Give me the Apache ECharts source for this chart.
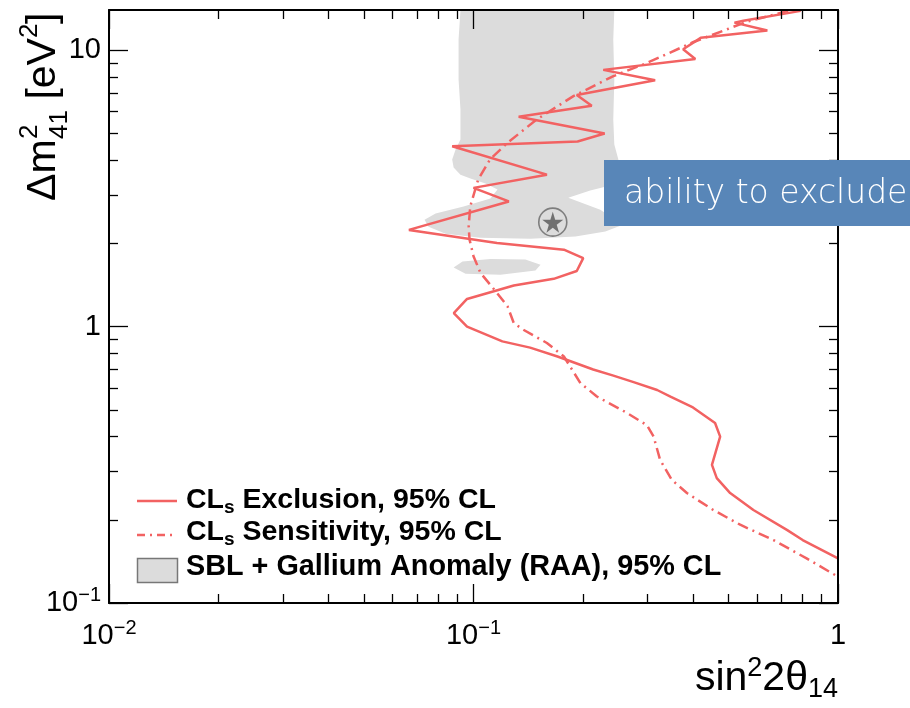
<!DOCTYPE html>
<html>
<head>
<meta charset="utf-8">
<script src="https://cdn.jsdelivr.net/npm/echarts@6/dist/echarts.min.js"></script>
<style>
  html, body { margin: 0; padding: 0; background: #ffffff; }
  #chart { width: 910px; height: 708px; }
</style>
</head>
<body>
<div id="chart"></div>
<script>
// ---- axis ranges and tick values ----
const xRange = [0.01, 1];
const yRange = [0.1, 14];
const xMajorTicks = [0.01, 0.1, 1];
const xMinorTicks = [0.02, 0.03, 0.04, 0.05, 0.06, 0.07, 0.08, 0.09,
                     0.2, 0.3, 0.4, 0.5, 0.6, 0.7, 0.8, 0.9];
const yMajorTicks = [0.1, 1, 10];
const yMinorTicks = [0.2, 0.3, 0.4, 0.5, 0.6, 0.7, 0.8, 0.9,
                     2, 3, 4, 5, 6, 7, 8, 9];

// ---- CLs exclusion contour, 95% CL (sin^2 2theta, dm^2) ----
const exclX = [0.79, 0.55, 0.52, 0.64, 0.42, 0.376, 0.406, 0.227, 0.315, 0.192,
               0.211, 0.133, 0.229, 0.193, 0.0874, 0.159, 0.100, 0.125, 0.0665, 0.116,
               0.177, 0.200, 0.192, 0.166, 0.129, 0.096, 0.0883, 0.096, 0.120, 0.143,
               0.170, 0.213, 0.242, 0.275, 0.319, 0.347, 0.40, 0.46, 0.475, 0.451,
               0.465, 0.506, 0.586, 0.724, 0.80, 1.0];
const exclY = [13.9, 12.8, 12.6, 11.8, 11.1, 10.1, 9.3, 8.5, 7.8, 6.9,
               6.3, 5.75, 5.0, 4.68, 4.5, 3.55, 3.18, 2.84, 2.24, 2.01,
               1.90, 1.77, 1.59, 1.49, 1.41, 1.26, 1.12, 1.0, 0.885, 0.84,
               0.78, 0.70, 0.665, 0.63, 0.59, 0.558, 0.51, 0.448, 0.40, 0.316,
               0.283, 0.25, 0.217, 0.184, 0.169, 0.145];

// ---- CLs sensitivity contour, 95% CL ----
const sensX = [0.73, 0.562, 0.40, 0.299, 0.242, 0.188, 0.149, 0.124, 0.111, 0.103,
               0.098, 0.097, 0.0975, 0.100, 0.1045, 0.116, 0.124, 0.129, 0.137, 0.159,
               0.177, 0.1965, 0.218, 0.264, 0.299, 0.312, 0.325, 0.350, 0.385, 0.455,
               0.539, 0.665, 0.82, 1.0];
const sensY = [13.9, 12.7, 10.7, 9.0, 8.07, 6.83, 5.62, 4.63, 4.03, 3.41,
               2.73, 2.31, 2.07, 1.80, 1.565, 1.325, 1.185, 1.03, 0.975, 0.873,
               0.78, 0.625, 0.559, 0.487, 0.44, 0.40, 0.33, 0.279, 0.25, 0.217,
               0.192, 0.169, 0.145, 0.1245];

// ---- SBL + Gallium anomaly (RAA) allowed region, 95% CL: outline ----
const raaX = [0.0921, 0.0910, 0.0910, 0.0921, 0.0921, 0.0893, 0.0874, 0.0882, 0.0921, 0.0981,
              0.1079, 0.1164, 0.1113, 0.0939, 0.0787, 0.0734, 0.0753, 0.0838, 0.1045, 0.1433,
              0.1904, 0.230, 0.2528, 0.2403, 0.2228, 0.182, 0.209, 0.2373, 0.2497, 0.2497,
              0.2434, 0.2418, 0.2434, 0.2418, 0.2434];
const raaY = [14, 10.96, 7.85, 6.11, 4.76, 4.38, 4.03, 3.77, 3.55, 3.44,
              3.30, 3.14, 2.91, 2.72, 2.57, 2.44, 2.30, 2.17, 2.10, 2.08,
              2.12, 2.21, 2.32, 2.48, 2.65, 2.93, 3.11, 3.24, 3.55, 4.03,
              4.56, 5.62, 7.85, 10.96, 14];
// small separate island of the allowed region
const islandX = [0.0882, 0.0933, 0.1113, 0.1388, 0.1527, 0.1479, 0.1186, 0.0951];
const islandY = [1.636, 1.72, 1.756, 1.749, 1.677, 1.596, 1.543, 1.556];

// best-fit point of the allowed region
const bestFitX = [0.165];
const bestFitY = [2.39];

// ---- styling ----
const RED = '#f26262';
const GREY = '#dcdcdc';
const FONT = "'Liberation Sans', Arial, Helvetica, sans-serif";

const zip = (xs, ys) => xs.map((x, i) => [x, ys[i]]);

function powerLabel(v) {
  const e = Math.round(Math.log10(v));
  if (e === 0) return '{m|1}';
  if (e === 1) return '{m|10}';
  return '{m|10}{e|\u2212' + (-e) + '}';
}
const labelRich = {
  m: { fontSize: 29, lineHeight: 36, fontFamily: FONT, color: '#000' },
  e: { fontSize: 20, lineHeight: 14, verticalAlign: 'top', fontFamily: FONT, color: '#000' }
};

function makeAxis(position, range, ticks, major, withLabel, labelMargin) {
  return {
    type: 'log',
    logBase: 10,
    position: position,
    min: range[0],
    max: range[1],
    z: 10,
    axisLine: { show: major, onZero: false, lineStyle: { color: '#000', width: 2 } },
    axisTick: {
      show: true, inside: true, length: major ? 19 : 9,
      customValues: ticks,
      lineStyle: { color: '#000', width: 1.3 }
    },
    minorTick: { show: false },
    splitLine: { show: false },
    axisLabel: withLabel ? {
      show: true, customValues: ticks, margin: labelMargin,
      formatter: powerLabel, rich: labelRich, hideOverlap: false
    } : { show: false }
  };
}

// polygon drawn from its outline vertices through the axis scales
function polygonRenderer(xs, ys, color) {
  return function (params, api) {
    if (params.dataIndex !== 0) return null;
    const pts = xs.map((x, i) => api.coord([x, ys[i]]));
    return { type: 'polygon', shape: { points: pts }, style: { fill: color } };
  };
}

const chart = echarts.init(document.getElementById('chart'), null, { renderer: 'canvas' });

const starPath = 'path://M50,0 L61,35 L98,35 L68,57 L79,91 L50,70 L21,91 L32,57 L2,35 L39,35 Z';

const legendRich = {
  m: { fontSize: 28.5, fontWeight: 'bold', lineHeight: 34, fontFamily: FONT, fill: '#000' },
  s: { fontSize: 19, fontWeight: 'bold', lineHeight: 14, verticalAlign: 'bottom', fontFamily: FONT, fill: '#000' }
};

const option = {
  animation: false,
  backgroundColor: '#ffffff',
  grid: { left: 109, right: 72, top: 10, bottom: 105, containLabel: false, outerBoundsMode: 'none' },
  xAxis: [
    makeAxis('bottom', xRange, xMajorTicks, true, true, 15),
    makeAxis('bottom', xRange, xMinorTicks, false, false, 0),
    makeAxis('top', xRange, xMajorTicks, true, false, 0),
    makeAxis('top', xRange, xMinorTicks, false, false, 0)
  ],
  yAxis: [
    makeAxis('left', yRange, yMajorTicks, true, true, 8),
    makeAxis('left', yRange, yMinorTicks, false, false, 0),
    makeAxis('right', yRange, yMajorTicks, true, false, 0),
    makeAxis('right', yRange, yMinorTicks, false, false, 0)
  ],
  series: [
    {
      name: 'SBL + Gallium Anomaly (RAA), 95% CL',
      type: 'custom', xAxisIndex: 0, yAxisIndex: 0, z: 1,
      data: zip(raaX, raaY),
      renderItem: polygonRenderer(raaX, raaY, GREY)
    },
    {
      name: 'RAA island',
      type: 'custom', xAxisIndex: 0, yAxisIndex: 0, z: 1,
      data: zip(islandX, islandY),
      renderItem: polygonRenderer(islandX, islandY, GREY)
    },
    {
      name: 'best fit ring',
      type: 'scatter', xAxisIndex: 0, yAxisIndex: 0, z: 3,
      data: zip(bestFitX, bestFitY),
      symbol: 'circle', symbolSize: 28,
      itemStyle: { color: 'rgba(0,0,0,0)', borderColor: '#666', borderWidth: 1.6 }
    },
    {
      name: 'best fit',
      type: 'scatter', xAxisIndex: 0, yAxisIndex: 0, z: 3,
      data: zip(bestFitX, bestFitY),
      symbol: starPath, symbolSize: 21,
      itemStyle: { color: '#555' }
    },
    {
      name: 'CLs Sensitivity, 95% CL',
      type: 'line', xAxisIndex: 0, yAxisIndex: 0, z: 4,
      data: zip(sensX, sensY),
      showSymbol: false, symbol: 'none',
      lineStyle: { color: RED, width: 2.5, type: [11, 5, 2, 5] }
    },
    {
      name: 'CLs Exclusion, 95% CL',
      type: 'line', xAxisIndex: 0, yAxisIndex: 0, z: 5,
      data: zip(exclX, exclY),
      showSymbol: false, symbol: 'none',
      lineStyle: { color: RED, width: 2.5 }
    }
  ],
  graphic: [
    // y-axis title: Δm²₄₁ [eV²]
    {
      type: 'group', x: 58, y: 201, rotation: Math.PI / 2, z: 20,
      children: [
        { type: 'text', x: 0, y: -14.6, style: { text: '\u0394m', fontSize: 41, fontFamily: FONT, fill: '#000', verticalAlign: 'middle' } },
        { type: 'text', x: 62, y: -28.5, style: { text: '2', fontSize: 26, fontFamily: FONT, fill: '#000', verticalAlign: 'middle' } },
        { type: 'text', x: 62, y: 2, style: { text: '41', fontSize: 26, fontFamily: FONT, fill: '#000', verticalAlign: 'middle' } },
        { type: 'text', x: 90, y: -14.6, style: { text: ' [eV', fontSize: 41, fontFamily: FONT, fill: '#000', verticalAlign: 'middle' } },
        { type: 'text', x: 163, y: -28.5, style: { text: '2', fontSize: 26, fontFamily: FONT, fill: '#000', verticalAlign: 'middle' } },
        { type: 'text', x: 177, y: -14.6, style: { text: ']', fontSize: 41, fontFamily: FONT, fill: '#000', verticalAlign: 'middle' } }
      ]
    },
    // x-axis title: sin²2θ₁₄
    {
      type: 'text', x: 838, y: 679, z: 20,
      style: {
        text: '{m|sin}{p|2}{m|2\u03b8}{b|14}',
        align: 'right', verticalAlign: 'middle',
        rich: {
          m: { fontSize: 41, lineHeight: 48, fontFamily: FONT, fill: '#000' },
          p: { fontSize: 27, lineHeight: 24, verticalAlign: 'top', fontFamily: FONT, fill: '#000' },
          b: { fontSize: 27, lineHeight: 16, verticalAlign: 'bottom', fontFamily: FONT, fill: '#000' }
        }
      }
    },
    // legend
    { type: 'line', z: 20, shape: { x1: 137, y1: 501, x2: 177, y2: 501 }, style: { stroke: RED, lineWidth: 2.5 } },
    { type: 'line', z: 20, shape: { x1: 137, y1: 535, x2: 177, y2: 535 }, style: { stroke: RED, lineWidth: 2.5, lineDash: [8, 5, 2, 5] } },
    { type: 'rect', z: 20, shape: { x: 137.5, y: 558.5, width: 40, height: 24 }, style: { fill: GREY, stroke: '#777', lineWidth: 1.5 } },
    {
      type: 'text', x: 186, y: 500, z: 20,
      style: { text: '{m|CL}{s|s}{m| Exclusion, 95% CL}', verticalAlign: 'middle', rich: legendRich }
    },
    {
      type: 'text', x: 186, y: 532, z: 20,
      style: { text: '{m|CL}{s|s}{m| Sensitivity, 95% CL}', verticalAlign: 'middle', rich: legendRich }
    },
    {
      type: 'text', x: 186, y: 567, z: 20,
      style: {
        text: 'SBL + Gallium Anomaly (RAA), 95% CL', verticalAlign: 'middle',
        fontSize: 28.8, fontWeight: 'bold', fontFamily: FONT, fill: '#000'
      }
    },
    // annotation banner
    { type: 'rect', z: 30, shape: { x: 604, y: 160, width: 306, height: 66 }, style: { fill: '#5886b8' } },
    {
      type: 'text', x: 624, y: 194, z: 31,
      style: { text: 'ability to exclude', fontSize: 33, fontWeight: 200, fontFamily: "'DejaVu Sans', sans-serif", fill: '#ffffff', verticalAlign: 'middle' }
    }
  ]
};

chart.setOption(option);
</script>
</body>
</html>
